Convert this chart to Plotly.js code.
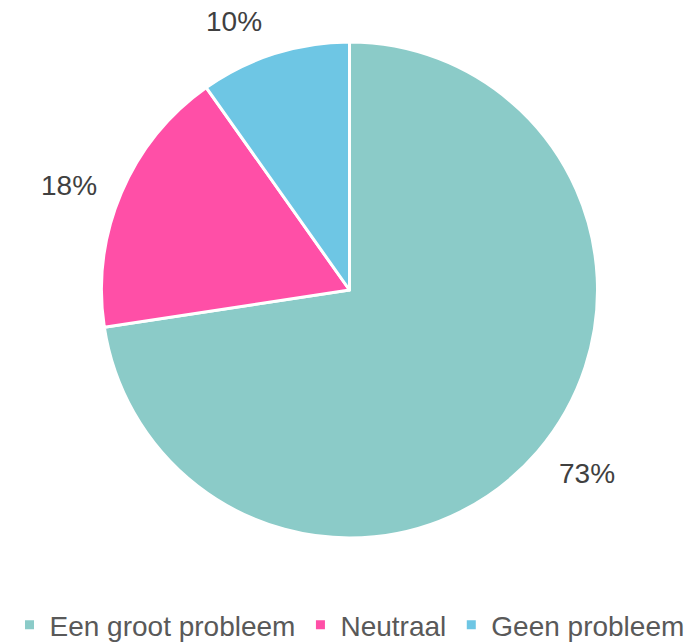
<!DOCTYPE html>
<html>
<head>
<meta charset="utf-8">
<script src="https://cdn.plot.ly/plotly-3.0.1.min.js"></script>
<style>html,body{margin:0;padding:0;background:#fff;overflow:hidden;}#chart{width:699px;height:650px;}</style>
</head>
<body>
<div id="chart"></div>
<script>
const categories = ["Een groot probleem", "Neutraal", "Geen probleem"];
const values = [72.6, 17.6, 9.8];
const colors = ["#8BCBC8", "#FF4FA7", "#6EC6E4"];

const W = 699, H = 650;
const domY = [(H - 538) / H, (H - 42) / H];
const radiusPx = Math.min(W, (domY[1] - domY[0]) * H) / 2;
const cx = 0.5, cy = (domY[0] + domY[1]) / 2;

const total = values.reduce((a, b) => a + b, 0);
let acc = 0;
const annotations = values.map((v, i) => {
  const mid = (acc + v / 2) / total * 2 * Math.PI;
  acc += v;
  const s = Math.sin(mid), c = Math.cos(mid);
  const r = radiusPx * 1.08;
  const xa = s > 0.1 ? "left" : (s < -0.1 ? "right" : "center");
  const ya = c > 0.7 ? "bottom" : (c < -0.5 ? "top" : "middle");
  return {
    x: cx + s * r / W,
    y: cy + c * r / H,
    xref: "paper", yref: "paper",
    text: Math.round(v / total * 100) + "%",
    showarrow: false,
    xanchor: xa,
    yanchor: ya,
    xshift: xa === "left" ? 4 : (xa === "right" ? -4 : 0),
    yshift: ya === "top" ? 9 : (ya === "bottom" ? -4 : 0),
    font: {family: "Liberation Sans, Arial, sans-serif", size: 28, color: "#404040"}
  };
});

const data = [{
  type: "pie",
  labels: categories,
  values: values,
  sort: false,
  direction: "clockwise",
  rotation: 0,
  textinfo: "none",
  hoverinfo: "label+percent",
  marker: {colors: colors, line: {color: "#ffffff", width: 3}},
  domain: {x: [0, 1], y: domY}
}];

const layout = {
  width: W, height: H,
  margin: {l: 0, r: 0, t: 0, b: 0},
  paper_bgcolor: "#ffffff",
  showlegend: true,
  legend: {
    orientation: "h",
    x: 0.5, xanchor: "center",
    y: 0, yanchor: "bottom",
    font: {family: "Liberation Sans, Arial, sans-serif", size: 28, color: "#595959"},
    itemwidth: 30
  },
  annotations: annotations
};

Plotly.newPlot("chart", data, layout, {displayModeBar: false, staticPlot: true});
</script>
</body>
</html>
